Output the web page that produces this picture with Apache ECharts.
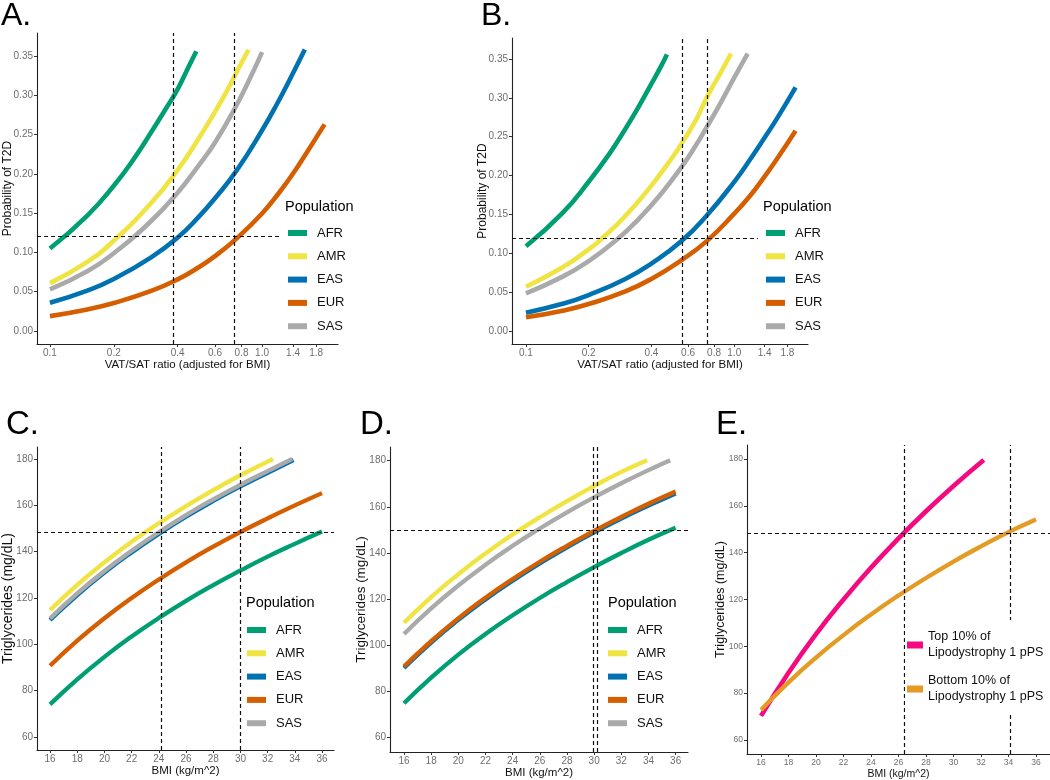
<!DOCTYPE html>
<html><head><meta charset="utf-8">
<script src="https://cdn.jsdelivr.net/npm/echarts@6/dist/echarts.min.js"></script>
<style>html,body{margin:0;padding:0;background:#fff}#c{width:1050px;height:780px}</style>
</head><body><div id="c"></div>
<script>
// ---------- tick labels ----------
const populations = ['AFR', 'AMR', 'EAS', 'EUR', 'SAS'];
const ratioTicks = [0.1, 0.2, 0.4, 0.6, 0.8, 1.0, 1.4, 1.8];
const probTicks = [0, 0.05, 0.10, 0.15, 0.20, 0.25, 0.30, 0.35];
const bmiTicks = [16, 18, 20, 22, 24, 26, 28, 30, 32, 34, 36];
const tgTicks = [60, 80, 100, 120, 140, 160, 180];
const lipoNames = ['Top 10% of Lipodystrophy 1 pPS', 'Bottom 10% of Lipodystrophy 1 pPS'];

// ---------- Panel A: VAT/SAT ratio vs probability of T2D ----------
const A_AFR = [[0.1,0.105],[0.15,0.147],[0.2,0.185],[0.25,0.220],[0.3,0.253],[0.35,0.282],[0.4,0.308],[0.45,0.336],[0.49,0.356]];
const A_AMR = [[0.1,0.061],[0.15,0.088],[0.2,0.115],[0.3,0.163],[0.4,0.205],[0.5,0.244],[0.6,0.279],[0.7,0.311],[0.76,0.330],[0.864,0.358]];
const A_EAS = [[0.1,0.036],[0.15,0.0515],[0.2,0.0663],[0.3,0.0938],[0.4,0.119],[0.5,0.1446],[0.6,0.169],[0.76,0.2046],[1.0,0.2555],[1.2,0.2934],[1.4,0.3283],[1.59,0.3583]];
const A_EUR = [[0.1,0.019],[0.15,0.0275],[0.2,0.0356],[0.3,0.051],[0.4,0.0657],[0.5,0.0808],[0.6,0.0954],[0.75,0.1166],[1.0,0.1496],[1.2,0.1757],[1.4,0.2005],[1.6,0.2244],[1.97,0.263]];
const A_SAS = [[0.1,0.053],[0.15,0.076],[0.2,0.099],[0.3,0.140],[0.4,0.176],[0.5,0.210],[0.6,0.240],[0.76,0.288],[0.9,0.328],[1.0,0.355]];
const A_hline = 0.117;
const A_vlines = [0.384, 0.748];

// ---------- Panel B ----------
const B_AFR = [[0.1,0.109],[0.15,0.152],[0.2,0.192],[0.25,0.227],[0.3,0.260],[0.35,0.290],[0.4,0.318],[0.45,0.343],[0.475,0.356]];
const B_AMR = [[0.1,0.057],[0.15,0.082],[0.2,0.105],[0.225,0.116],[0.3,0.148],[0.4,0.187],[0.5,0.222],[0.56,0.2415],[0.65,0.270],[0.74,0.301],[0.85,0.330],[0.966,0.357]];
const B_EAS = [[0.1,0.0236],[0.15,0.035],[0.2,0.0463],[0.3,0.067],[0.4,0.0868],[0.56,0.116],[0.74,0.149],[1.0,0.192],[1.2,0.222],[1.4,0.249],[1.6,0.273],[1.97,0.3136]];
const B_EUR = [[0.1,0.0176],[0.15,0.026],[0.2,0.0347],[0.3,0.051],[0.4,0.067],[0.56,0.0914],[0.74,0.116],[1.0,0.151],[1.2,0.175],[1.4,0.199],[1.6,0.221],[1.97,0.2578]];
const B_SAS = [[0.1,0.0485],[0.15,0.070],[0.2,0.090],[0.269,0.116],[0.35,0.145],[0.45,0.178],[0.56,0.2115],[0.65,0.2376],[0.74,0.263],[0.85,0.291],[1.0,0.326],[1.16,0.357]];
const B_hline = 0.117;
const B_vlines = [0.56, 0.74];

// ---------- Panel C: BMI vs triglycerides ----------
const C_AFR = [[16,74.1],[18,84.9],[20,94.6],[22,103.4],[24,111.4],[26,118.8],[28,125.6],[30,131.9],[32,137.9],[34,143.4],[36,148.7]];
const C_AMR = [[16,114.8],[18,125.7],[20,135.4],[22,144.3],[24,152.3],[26,159.7],[28,166.6],[30,173.0],[32,178.9],[32.4,180.0]];
const C_EAS = [[16,110.5],[18,121.3],[20,131.0],[22,139.7],[24,147.7],[26,155.1],[28,161.9],[30,168.2],[32,174.1],[33.9,179.6]];
const C_EUR = [[16,90.8],[18,101.6],[20,111.3],[22,120.0],[24,128.0],[26,135.4],[28,142.2],[30,148.5],[32,154.4],[34,160.0],[36,165.3]];
const C_SAS = [[16,111.2],[18,122.0],[20,131.7],[22,140.4],[24,148.4],[26,155.8],[28,162.6],[30,168.9],[32,174.8],[33.8,180.0]];
const C_hline = 148.5;
const C_vlines = [24.2, 30.0];

// ---------- Panel D ----------
const D_AFR = [[16,74.9],[18,86.0],[20,96.0],[22,104.9],[24,113.0],[26,120.5],[28,127.4],[30,133.9],[32,140.0],[34,145.7],[36,150.9]];
const D_AMR = [[16,109.8],[18,120.9],[20,130.8],[22,139.8],[24,148.0],[26,155.5],[28,162.5],[30,169.0],[32,175.1],[33.9,180.2]];
const D_EAS = [[16,90.2],[18,101.2],[20,111.0],[22,119.9],[24,128.0],[26,135.5],[28,142.4],[30,148.9],[32,154.9],[34,160.5],[36,165.8]];
const D_EUR = [[16,90.8],[18,101.8],[20,111.7],[22,120.6],[24,128.7],[26,136.2],[28,143.1],[30,149.6],[32,155.6],[34,161.3],[36,166.6]];
const D_SAS = [[16,104.9],[18,116.0],[20,125.9],[22,134.9],[24,143.1],[26,150.6],[28,157.6],[30,164.1],[32,170.2],[34,175.9],[35.6,180.2]];
const D_hline = 149.8;
const D_vlines = [29.95, 30.25];

// ---------- Panel E ----------
const E_top = [[16,70.3],[18,88.7],[20,105.2],[22,120.0],[24,133.6],[26,146.1],[28,157.7],[30,168.5],[32.2,179.6]];
const E_bottom = [[16,72.8],[18,84.6],[20,95.2],[22,104.8],[24,113.6],[26,121.7],[28,129.2],[30,136.2],[32,142.7],[34,148.8],[36,154.2]];
const E_hline = 148.5;
const E_vlines = [26.4, 34.1];

// ---------- styling / layout ----------
const FONT = '"Liberation Sans", Arial, Helvetica, sans-serif';
const popColor = {AFR:'#009E73', AMR:'#F0E442', EAS:'#0072B2', EUR:'#D55E00', SAS:'#AAAAAA'};
const lipoColor = ['#F5097F', '#E39B24'];
const log10 = Math.log10;

const grids = [
  {left:37, top:33, width:301, height:311},
  {left:512, top:38, width:296, height:306},
  {left:37, top:447, width:297, height:303},
  {left:390, top:447, width:298, height:305},
  {left:747, top:445, width:303, height:309}
].map(g => Object.assign(g, {outerBoundsMode:'none', containLabel:false}));

const axisLineStyle = {color:'#222', width:1.1};
function xAx(i, min, max, ticks, fmt, name, o) {
  o = o || {};
  return {type:'value', gridIndex:i, min, max, name, nameLocation:'middle', nameGap:o.nameGap || 15,
    nameMoveOverlap:false,
    nameTextStyle:{fontSize:o.nameSize || 11.5, color:'#111', fontFamily:FONT},
    axisLine:{show:true, onZero:false, lineStyle:axisLineStyle},
    axisTick:{show:true, customValues:ticks, length:3, lineStyle:{color:'#333', width:1}},
    axisLabel:{customValues:ticks, formatter:fmt, color:'#6e6e6e', fontSize:o.labelSize || 10, margin:4, fontFamily:FONT},
    splitLine:{show:false}, minorTick:{show:false}};
}
function yAx(i, min, max, ticks, fmt, name, o) {
  o = o || {};
  return {type:'value', gridIndex:i, min, max, name, nameLocation:'middle', nameGap:o.nameGap || 23,
    nameMoveOverlap:false,
    nameTextStyle:{fontSize:o.nameSize || 12, color:'#111', fontFamily:FONT},
    axisLine:{show:true, onZero:false, lineStyle:axisLineStyle},
    axisTick:{show:true, customValues:ticks, length:3, lineStyle:{color:'#333', width:1}},
    axisLabel:{customValues:ticks, formatter:fmt, color:'#6e6e6e', fontSize:o.labelSize || 10, margin:4, fontFamily:FONT},
    splitLine:{show:false}, minorTick:{show:false}};
}
const ratioFmt = v => Math.pow(10, v).toFixed(1);
const probFmt = v => v.toFixed(2);
const intFmt = v => String(Math.round(v));
const logTicks = ratioTicks.map(log10);

const xAxes = [
  xAx(0, log10(0.0869), log10(2.28), logTicks, ratioFmt, 'VAT/SAT ratio (adjusted for BMI)'),
  xAx(1, log10(0.0857), log10(2.26), logTicks, ratioFmt, 'VAT/SAT ratio (adjusted for BMI)'),
  xAx(2, 15.04, 36.88, bmiTicks, intFmt, 'BMI (kg/m^2)', {nameSize:11.5}),
  xAx(3, 14.97, 36.91, bmiTicks, intFmt, 'BMI (kg/m^2)', {nameSize:11.5}),
  xAx(4, 14.98, 37.02, bmiTicks, intFmt, 'BMI (kg/m^2)', {nameSize:10.5, labelSize:8.5})
];
const yAxes = [
  yAx(0, -0.0165, 0.3793, probTicks, probFmt, 'Probability of T2D'),
  yAx(1, -0.0167, 0.377, probTicks, probFmt, 'Probability of T2D'),
  yAx(2, 54.4, 185.2, tgTicks, intFmt, 'Triglycerides (mg/dL)', {nameSize:14, nameGap:22}),
  yAx(3, 53.8, 185.9, tgTicks, intFmt, 'Triglycerides (mg/dL)', {nameSize:13.5, nameGap:22}),
  yAx(4, 54.0, 186.0, tgTicks, intFmt, 'Triglycerides (mg/dL)', {nameSize:12.5, nameGap:20, labelSize:8.5})
];

const panelData = [
  {AFR:A_AFR, AMR:A_AMR, EAS:A_EAS, EUR:A_EUR, SAS:A_SAS, log:true, h:A_hline, v:A_vlines},
  {AFR:B_AFR, AMR:B_AMR, EAS:B_EAS, EUR:B_EUR, SAS:B_SAS, log:true, h:B_hline, v:B_vlines},
  {AFR:C_AFR, AMR:C_AMR, EAS:C_EAS, EUR:C_EUR, SAS:C_SAS, log:false, h:C_hline, v:C_vlines},
  {AFR:D_AFR, AMR:D_AMR, EAS:D_EAS, EUR:D_EUR, SAS:D_SAS, log:false, h:D_hline, v:D_vlines}
];

const series = [];
function curve(i, name, data, color, w, isLog) {
  series.push({type:'line', name, xAxisIndex:i, yAxisIndex:i, showSymbol:false, symbol:'none',
    smooth:0.5, silent:true, z:2,
    lineStyle:{color, width:w, cap:'butt'}, itemStyle:{color},
    data: data.map(d => [isLog ? log10(d[0]) : d[0], d[1]])});
}
function refLines(i, h, vs, isLog) {
  series.push({type:'line', name:'ref' + i, xAxisIndex:i, yAxisIndex:i, data:[], silent:true, z:3,
    markLine:{symbol:['none','none'], silent:true, animation:false, label:{show:false},
      lineStyle:{color:'#111', type:[4,3], width:1.2},
      emphasis:{disabled:true},
      data:[{yAxis:h}].concat(vs.map(v => ({xAxis: isLog ? log10(v) : v})))}});
}
panelData.forEach((p, i) => {
  populations.forEach(pop => curve(i, pop, p[pop], popColor[pop], i < 2 ? 4.6 : 4.3, p.log));
  refLines(i, p.h, p.v, p.log);
});
curve(4, lipoNames[0], E_top, lipoColor[0], 4.6, false);
curve(4, lipoNames[1], E_bottom, lipoColor[1], 4.3, false);
refLines(4, E_hline, E_vlines, false);

function popLegend(left, top) {
  return {orient:'vertical', left, top, data:populations, icon:'rect', itemWidth:19, itemHeight:6,
    itemGap:7.3, padding:0, selectedMode:false, z:60,
    textStyle:{fontSize:13, color:'#111', fontFamily:FONT, lineHeight:16, padding:[0,0,0,5]}};
}
const legends = [
  popLegend(288, 225), popLegend(766, 225), popLegend(247, 622), popLegend(608, 622),
  {orient:'vertical', left:907, top:629, data:lipoNames, icon:'rect', itemWidth:16, itemHeight:7,
   itemGap:12, padding:0, selectedMode:false, z:60,
   formatter: n => n.replace(' Lipodystrophy', '\nLipodystrophy'),
   textStyle:{fontSize:12.5, color:'#111', fontFamily:FONT, lineHeight:16}}
];

function txt(x, y, text, size, extra) {
  return Object.assign({type:'text', x, y, z:60, silent:true,
    style:{text, font: size + 'px ' + FONT, fill:'#000', verticalAlign:'top'}}, extra || {});
}
function whiteBox(x, y, w, h) {
  return {type:'rect', z:50, silent:true, shape:{x, y, width:w, height:h}, style:{fill:'#fff'}};
}
const graphic = [
  whiteBox(280, 196, 58, 144), whiteBox(758, 196, 50, 144), whiteBox(905, 620, 145, 93),
  txt(1, 0, 'A.', 32), txt(481, 0, 'B.', 32), txt(6, 408, 'C.', 33), txt(360, 408, 'D.', 33), txt(716, 408, 'E.', 33),
  txt(285, 199, 'Population', 14.5), txt(763, 199, 'Population', 14.5),
  txt(246, 595, 'Population', 14.5), txt(608, 595, 'Population', 14.5)
];

const chart = echarts.init(document.getElementById('c'), null, {renderer:'canvas'});
chart.setOption({
  animation:false,
  backgroundColor:'#fff',
  textStyle:{fontFamily:FONT},
  grid:grids, xAxis:xAxes, yAxis:yAxes,
  legend:legends, series, graphic
});
</script></body></html>
